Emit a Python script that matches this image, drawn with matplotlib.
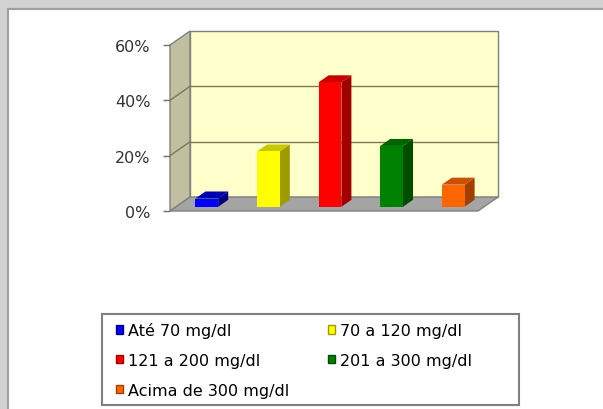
import matplotlib
matplotlib.use("Agg")
import matplotlib.pyplot as plt
from matplotlib.patches import Polygon, Rectangle
from matplotlib.ticker import FuncFormatter

# Glycemia ranges and share of patients (%)
categories = ["Até 70 mg/dl", "70 a 120 mg/dl", "121 a 200 mg/dl",
              "201 a 300 mg/dl", "Acima de 300 mg/dl"]
values = [3, 20, 45, 22, 8]
face_colors = ["#0000ff", "#ffff00", "#ff0000", "#008000", "#ff6600"]
side_colors = ["#000080", "#9c9c00", "#a00000", "#004d00", "#a04000"]
top_colors = ["#0000b0", "#c8c800", "#c80000", "#006400", "#c85000"]
y_ticks = [0, 20, 40, 60]

plt.rcParams["font.family"] = ["DejaVu Sans"]

fig = plt.figure(figsize=(6.03, 4.10), dpi=100)
fig.patch.set_facecolor("#d2d2d2")

# white chart panel with a darker top/left edge
panel = Rectangle((8 / 603, -0.05), 1, 1.05 - 10 / 410, transform=fig.transFigure,
                  facecolor="white", edgecolor="#a0a0a0", linewidth=1.5,
                  zorder=-10)
fig.patches.append(panel)

ax = fig.add_axes([170 / 603, 198 / 410, 308 / 603, 166 / 410])
ax.set_xlim(0, len(values))
ax.set_ylim(0, 60)
ax.patch.set_visible(False)
for s in ax.spines.values():
    s.set_visible(False)

# depth offset of the back plane, in data units
dx, dy = 0.325, 5.06
xmax = len(values)

wall_edge = "#808080"
# back wall
ax.add_patch(Polygon([(dx, dy), (xmax + dx, dy), (xmax + dx, 60 + dy), (dx, 60 + dy)],
                     closed=True, facecolor="#ffffcc", edgecolor=wall_edge,
                     linewidth=1.0, clip_on=False, zorder=1))
# side wall
ax.add_patch(Polygon([(0, 0), (dx, dy), (dx, 60 + dy), (0, 60)],
                     closed=True, facecolor="#c0c0a0", edgecolor=wall_edge,
                     linewidth=1.0, clip_on=False, zorder=1))
# floor
ax.add_patch(Polygon([(0, 0), (xmax, 0), (xmax + dx, dy), (dx, dy)],
                     closed=True, facecolor="#a4a4a4", edgecolor=wall_edge,
                     linewidth=1.0, clip_on=False, zorder=1))

# gridlines on back and side walls
for t in y_ticks[1:-1]:
    ax.plot([dx, xmax + dx], [t + dy, t + dy], color="#7a7a5a", linewidth=1.0,
            clip_on=False, zorder=2)
    ax.plot([0, dx], [t, t + dy], color="#7a7a5a", linewidth=1.0,
            clip_on=False, zorder=2)

# 3D columns
w = 0.37
f, b = 0.30, 0.80
centers = [i + 0.5 for i in range(len(values))]
bars = ax.bar([c + f * dx for c in centers], values, width=w, bottom=f * dy,
              color=face_colors, edgecolor="none", zorder=4, clip_on=False)
for c, v, sc, tc in zip(centers, values, side_colors, top_colors):
    x1 = c + w / 2
    x0 = c - w / 2
    ax.add_patch(Polygon([(x1 + f * dx, f * dy), (x1 + b * dx, b * dy),
                          (x1 + b * dx, v + b * dy), (x1 + f * dx, v + f * dy)],
                         closed=True, facecolor=sc, edgecolor="none",
                         clip_on=False, zorder=3))
    ax.add_patch(Polygon([(x0 + f * dx, v + f * dy), (x1 + f * dx, v + f * dy),
                          (x1 + b * dx, v + b * dy), (x0 + b * dx, v + b * dy)],
                         closed=True, facecolor=tc, edgecolor="none",
                         clip_on=False, zorder=3))

ax.set_xticks([])
ax.set_yticks(y_ticks)
ax.yaxis.set_major_formatter(FuncFormatter(lambda v, p: f"{v:.0f}%"))
ax.tick_params(axis="y", length=5, width=1.0, color="#707070", pad=9,
               labelsize=11.5, labelcolor="#333333")

# legend frame and entries, filled row by row
fig.patches.append(Rectangle((102 / 603, 1 - 406 / 410), 417 / 603, 91 / 410,
                             transform=fig.transFigure, facecolor="white",
                             edgecolor="#808080", linewidth=1.5, zorder=1))
order = [0, 2, 4, 1, 3]
handles = [Rectangle((0, 0), 1, 1, facecolor=face_colors[i],
                     edgecolor=side_colors[i], linewidth=1.0) for i in order]
labels = [categories[i] for i in order]
leg = fig.legend(handles, labels, ncol=2, loc="upper left",
                 bbox_to_anchor=(113 / 603, 1 - 320 / 410),
                 frameon=False, fontsize=11.5,
                 handlelength=0.45, handleheight=0.45, handletextpad=0.3,
                 columnspacing=2.4, labelspacing=0.92, borderpad=0.2,
                 borderaxespad=0)
leg.set_zorder(2)

fig.savefig("out.png", dpi=100, facecolor=fig.get_facecolor())
